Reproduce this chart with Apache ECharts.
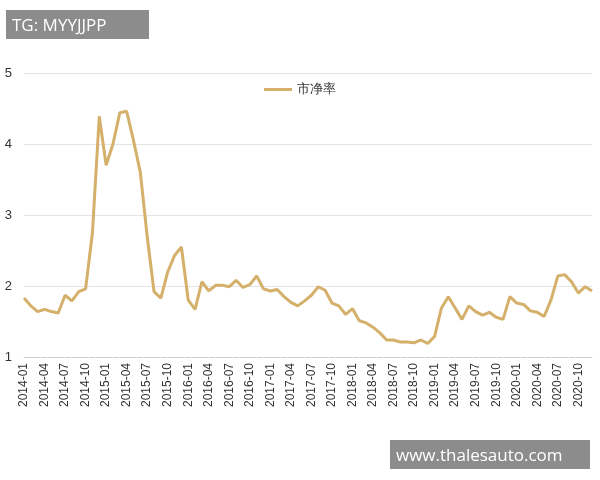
<!DOCTYPE html><html><head><meta charset="utf-8"><script src="https://cdn.jsdelivr.net/npm/echarts@6/dist/echarts.min.js"></script>
<style>body{margin:0}#c{width:600px;height:480px}
.wm{position:absolute;background:rgba(120,120,120,0.85);color:#fff;font-family:"Open Sans",sans-serif;font-size:17px;padding:3px 6px}</style></head><body>
<div id="c"></div>
<div class="wm" style="left:6px;top:10px;width:131px">TG: MYYJJPP</div>
<div class="wm" style="left:390px;top:440px;width:188px">www.thalesauto.com</div>
<script>
const categories=[];
for(let y=2014;y<=2020;y++)for(let m=1;m<=12;m++)categories.push(y+'-'+String(m).padStart(2,'0'));
const pbValues=[1.83,1.72,1.64,1.67,1.64,1.62,1.87,1.79,1.92,1.96,2.75,4.39,3.70,4.0,4.44,4.46,4.05,3.6,2.7,1.92,1.83,2.2,2.43,2.55,1.8,1.67,2.06,1.93,2.01,2.01,1.99,2.08,1.98,2.02,2.14,1.96,1.93,1.95,1.85,1.77,1.72,1.79,1.87,1.99,1.94,1.76,1.72,1.60,1.68,1.51,1.48,1.42,1.34,1.24,1.24,1.21,1.21,1.20,1.24,1.19,1.29,1.69,1.85,1.69,1.53,1.72,1.64,1.59,1.63,1.56,1.53,1.85,1.76,1.74,1.65,1.63,1.57,1.80,2.14,2.16,2.06,1.90,1.99,1.93];
const c=echarts.init(document.getElementById('c'));
c.setOption({
 animation:false,
 legend:{top:78,left:'center',itemWidth:28,icon:'path://M0,0h28v3h-28z',textStyle:{fontSize:13,color:'#333'},data:['市净率']},
 grid:{left:24,right:8,top:73,bottom:123},
 xAxis:{type:'category',data:categories,boundaryGap:false,
  axisLine:{lineStyle:{color:'#ccc',type:'dashed'}},axisTick:{show:false},
  axisLabel:{rotate:90,interval:2,color:'#333',fontSize:12,margin:6}},
 yAxis:{type:'value',min:1,max:5,interval:1,axisLabel:{color:'#333',fontSize:13,margin:12},
  splitLine:{lineStyle:{color:'#e4e4e4'}},axisLine:{show:false}},
 series:[{name:'市净率',type:'line',data:pbValues,showSymbol:false,lineStyle:{color:'#d4b06a',width:3},itemStyle:{color:'#d4b06a'}}]
});
</script></body></html>
